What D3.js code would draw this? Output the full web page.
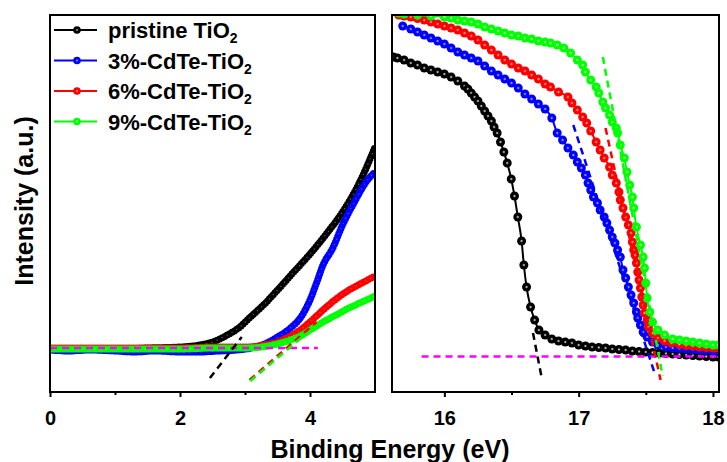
<!DOCTYPE html>
<html>
<head>
<meta charset="utf-8">
<script src="https://cdn.jsdelivr.net/npm/d3@7/dist/d3.min.js"></script>
<style>
body { margin: 0; background: #fff; }
text { font-family: "Liberation Sans", Arial, sans-serif; font-weight: bold; }
</style>
</head>
<body>
<svg id="chart" width="727" height="462"></svg>
<script>
// labels and ticks
const seriesLabels = ["pristine TiO", "3%-CdTe-TiO", "6%-CdTe-TiO", "9%-CdTe-TiO"];
const leftTicks = [0, 2, 4];
const leftMinorTicks = [1, 3];
const rightTicks = [16, 17, 18];
const rightMinorTicks = [16.5, 17.5];

// left panel (low binding energy), [eV, intensity a.u.]
const leftPristine = [[0,43],[0.5,43],[1,43],[1.5,44],[2,45],[2.3,47],[2.5,50],[2.7,56],[2.9,64],[3.1,76],[3.3,88],[3.5,102],[3.75,120],[4,138],[4.25,158],[4.5,180],[4.75,208],[5,245]];
const leftCd3 = [[0,42],[0.3,41],[0.6,42],[1,41],[1.3,40],[1.6,41],[2,40],[2.3,40],[2.6,41],[2.9,42],[3.1,44],[3.3,48],[3.5,55],[3.7,64],[3.85,74],[4,92],[4.1,109],[4.2,127],[4.35,144],[4.5,167],[4.7,192],[4.85,209],[5,220]];
const leftCd6 = [[0,44],[1,44],[2,44],[2.5,45],[3,45],[3.3,47],[3.5,50],[3.7,56],[3.85,62],[4,70],[4.2,82],[4.4,93],[4.6,102],[4.8,109],[5,116]];
const leftCd9 = [[0,43],[1,43],[2,43],[2.5,44],[3,44],[3.5,48],[3.7,52],[3.85,56],[4,62],[4.2,70],[4.4,77],[4.6,84],[4.8,90],[5,96]];

// right panel (secondary electron cutoff), [eV, intensity a.u.]
const rightPristine = [[15.62,335],[15.65,334],[15.7,332],[15.75,329],[15.8,327],[15.85,324],[15.9,322],[15.95,320],[16,318],[16.05,315],[16.1,311],[16.15,306],[16.175,303],[16.2,299],[16.225,295],[16.25,291],[16.275,286],[16.3,281],[16.325,276],[16.35,271],[16.37,265],[16.393,259],[16.418,250],[16.443,240],[16.468,229],[16.498,213],[16.522,196],[16.547,175],[16.575,151],[16.592,127],[16.612,105],[16.642,85],[16.672,72],[16.704,62],[16.75,57],[16.8,53],[16.85,51],[16.9,50],[16.95,49],[17,47],[17.05,46],[17.1,45],[17.15,44.5],[17.2,44],[17.25,43],[17.3,42.5],[17.35,42],[17.4,41],[17.45,40.5],[17.5,40],[17.55,39.5],[17.6,39],[17.65,38.5],[17.7,38],[17.75,37.5],[17.8,37],[17.85,36.5],[17.9,36],[17.95,35.5],[18,35],[18.04,35]];
const rightCd3 = [[15.69,366],[15.75,363],[15.8,360],[15.85,357],[15.9,354],[15.95,351],[16,348],[16.05,344],[16.1,340],[16.15,337],[16.2,334],[16.25,331],[16.3,326],[16.35,321],[16.4,317],[16.45,313],[16.5,309],[16.55,304],[16.6,298],[16.65,293],[16.7,288],[16.75,283],[16.8,274],[16.84,259],[16.88,252],[16.92,244],[16.96,237],[16.99,230],[17.02,224],[17.05,217],[17.07,209],[17.09,202],[17.11,195],[17.14,189],[17.16,182],[17.19,175],[17.21,169],[17.23,162],[17.25,155],[17.27,149],[17.29,142],[17.31,135],[17.33,122],[17.35,114],[17.37,105],[17.39,97],[17.41,89],[17.43,80],[17.44,74],[17.46,67],[17.48,60],[17.51,55],[17.55,50],[17.59,47],[17.65,45],[17.7,44],[17.75,43.5],[17.8,43],[17.85,42.5],[17.9,42],[17.95,41.5],[18,41],[18.04,41]];
const rightCd6 = [[15.66,377],[15.7,376],[15.75,375],[15.8,373.5],[15.85,372],[15.9,370],[15.95,368],[16,366],[16.05,364],[16.1,362],[16.15,359],[16.2,356],[16.25,352],[16.3,347],[16.35,342],[16.4,337],[16.45,332],[16.5,328],[16.55,324],[16.6,321],[16.65,317],[16.7,313],[16.75,308],[16.79,305],[16.85,300],[16.92,295],[16.95,289],[16.99,282],[17.03,275],[17.06,269],[17.09,261],[17.13,250],[17.16,242],[17.19,234],[17.23,225],[17.25,217],[17.28,209],[17.3,200],[17.31,192],[17.33,184],[17.35,175],[17.37,167],[17.39,159],[17.4,150],[17.41,142],[17.42,137],[17.43,129],[17.44,120],[17.45,112],[17.46,104],[17.47,95],[17.48,87],[17.49,79],[17.51,72],[17.52,65],[17.55,59],[17.59,54],[17.64,51],[17.69,49],[17.75,47.5],[17.8,46.5],[17.85,46],[17.9,45],[17.95,44.5],[18,44],[18.04,44]];
const rightCd9 = [[15.66,379],[15.7,378],[15.8,377],[15.9,376],[16,375],[16.05,374],[16.1,372],[16.15,371],[16.2,370],[16.25,368],[16.3,365],[16.35,363],[16.4,361],[16.45,359],[16.5,357],[16.55,356],[16.6,354],[16.65,353],[16.7,351],[16.75,350],[16.79,349],[16.84,347],[16.89,344],[16.94,339],[16.99,332],[17.03,327],[17.05,320],[17.09,312],[17.13,305],[17.15,299],[17.18,290],[17.2,284],[17.23,277],[17.25,270],[17.28,264],[17.29,259],[17.31,247],[17.34,234],[17.36,220],[17.38,207],[17.4,195],[17.41,184],[17.43,165],[17.46,147],[17.48,135],[17.49,124],[17.5,109],[17.51,94],[17.53,80],[17.55,70],[17.59,62],[17.64,57],[17.7,53],[17.75,52],[17.8,51],[17.85,50],[17.9,49],[17.95,48],[18,47],[18.04,47]];

// extrapolation (dashed) lines, [eV, intensity]
const leftBaseline = [[0,44],[4.12,44]];
const leftFits = [[[2.46,14],[2.95,55]], null, [[3.07,12],[4.1,70]], [[3.08,11],[3.9,56]]];
const rightBaseline = [[15.83,35.5],[18.04,35.5]];
const rightFits = [[[16.66,59],[16.725,14]], [[16.96,267],[17.57,17]], [[17.2,264],[17.61,12]], [[17.18,335],[17.625,16]]];

const colors = ["#000000", "#0000ff", "#ff0000", "#00ff00"];
const lightColors = ["#909090", "#7070ff", "#ff7070", "#90ff90"];
const magenta = "#ff00ff";

const svg = d3.select("#chart");
const plotTop = 15, plotBottom = 392;

const y = d3.scaleLinear().domain([0, 377]).range([plotBottom, plotTop]);
const xLeft = d3.scaleLinear().domain([0, 5]).range([50, 375]);
const xRight = d3.scaleLinear().domain([15.61, 18.045]).range([392, 719]);

// ball-like marker fills
const defs = svg.append("defs");
colors.forEach((c, i) => {
  const g = defs.append("radialGradient").attr("id", "ball" + i)
    .attr("cx", "50%").attr("cy", "50%").attr("r", "50%");
  g.append("stop").attr("offset", "0%").attr("stop-color", "#f0f0f0");
  g.append("stop").attr("offset", "15%").attr("stop-color", lightColors[i]);
  g.append("stop").attr("offset", "38%").attr("stop-color", c);
  g.append("stop").attr("offset", "100%").attr("stop-color", c);
});

function panel(name, x, ticks, minor) {
  const x0 = x.range()[0], x1 = x.range()[1];
  defs.append("clipPath").attr("id", "clip-" + name)
    .append("rect").attr("x", x0).attr("y", plotTop).attr("width", x1 - x0).attr("height", plotBottom - plotTop);
  const g = svg.append("g");
  const plot = g.append("g").attr("clip-path", "url(#clip-" + name + ")");

  const ax = g.append("g").attr("transform", `translate(0,${plotBottom})`)
    .call(d3.axisBottom(x).tickValues(ticks).tickSize(5).tickSizeOuter(0).tickPadding(14).tickFormat(d3.format("d")));
  ax.select(".domain").remove();
  ax.selectAll("line").attr("stroke-width", 2);
  ax.selectAll("text").attr("font-size", 20).attr("fill", "#000");
  const mi = g.append("g").attr("transform", `translate(0,${plotBottom})`)
    .call(d3.axisBottom(x).tickValues(minor).tickSize(3).tickSizeOuter(0).tickFormat(""));
  mi.select(".domain").remove();
  mi.selectAll("line").attr("stroke-width", 2);

  g.append("rect").attr("x", x0).attr("y", plotTop).attr("width", x1 - x0).attr("height", plotBottom - plotTop)
    .attr("fill", "none").attr("stroke", "#000").attr("stroke-width", 2);
  return plot;
}

const leftPlot = panel("l", xLeft, leftTicks, leftMinorTicks);
const rightPlot = panel("r", xRight, rightTicks, rightMinorTicks);

// left: dense markers drawn as beads along the curve
const lineL = d3.line().x(d => xLeft(d[0])).y(d => y(d[1])).curve(d3.curveMonotoneX);
[leftPristine, leftCd3, leftCd6, leftCd9].forEach((s, i) => {
  leftPlot.append("path").attr("d", lineL(s)).attr("fill", "none")
    .attr("stroke", colors[i]).attr("stroke-width", 7)
    .attr("stroke-linecap", "round").attr("stroke-dasharray", "0 2.8");
  leftPlot.append("path").attr("d", lineL(s)).attr("fill", "none")
    .attr("stroke", lightColors[i]).attr("stroke-width", 1.3).attr("opacity", 0.8)
    .attr("stroke-linecap", "round").attr("stroke-dasharray", "0 5.6");
});

// right: line + markers
const lineR = d3.line().x(d => xRight(d[0])).y(d => y(d[1])).curve(d3.curveMonotoneX);
[rightPristine, rightCd3, rightCd6, rightCd9].forEach((s, i) => {
  rightPlot.append("path").attr("d", lineR(s)).attr("fill", "none")
    .attr("stroke", colors[i]).attr("stroke-width", 2);
  rightPlot.selectAll(null).data(s).enter().append("circle")
    .attr("cx", d => xRight(d[0])).attr("cy", d => y(d[1])).attr("r", 4.5)
    .attr("fill", `url(#ball${i})`);
});

// dashed fit lines
const dash = (plot, x, pts, c) => plot.append("path")
  .attr("d", d3.line().x(d => x(d[0])).y(d => y(d[1]))(pts))
  .attr("fill", "none").attr("stroke", c).attr("stroke-width", 2.5).attr("stroke-dasharray", "7 5");
dash(leftPlot, xLeft, leftBaseline, magenta);
leftFits.forEach((f, i) => { if (f) dash(leftPlot, xLeft, f, colors[i]); });
dash(rightPlot, xRight, rightBaseline, magenta);
rightFits.forEach((f, i) => dash(rightPlot, xRight, f, colors[i]));

// legend
const legend = svg.append("g");
seriesLabels.forEach((lab, i) => {
  const ry = 30 + i * 30.5;
  legend.append("line").attr("x1", 54).attr("x2", 97).attr("y1", ry).attr("y2", ry)
    .attr("stroke", colors[i]).attr("stroke-width", 2);
  legend.append("circle").attr("cx", 77).attr("cy", ry).attr("r", 3.8).attr("fill", `url(#ball${i})`);
  const t = legend.append("text").attr("x", 108).attr("y", ry + 8).attr("font-size", 22).text(lab);
  t.append("tspan").attr("dy", 5).attr("font-size", 14).text("2");
});

// axis titles
svg.append("text").attr("x", 390).attr("y", 458).attr("text-anchor", "middle")
  .attr("font-size", 25).text("Binding Energy (eV)");
svg.append("text").attr("transform", "translate(33,201) rotate(-90)").attr("text-anchor", "middle")
  .attr("font-size", 25).text("Intensity (a.u.)");
</script>
</body>
</html>
